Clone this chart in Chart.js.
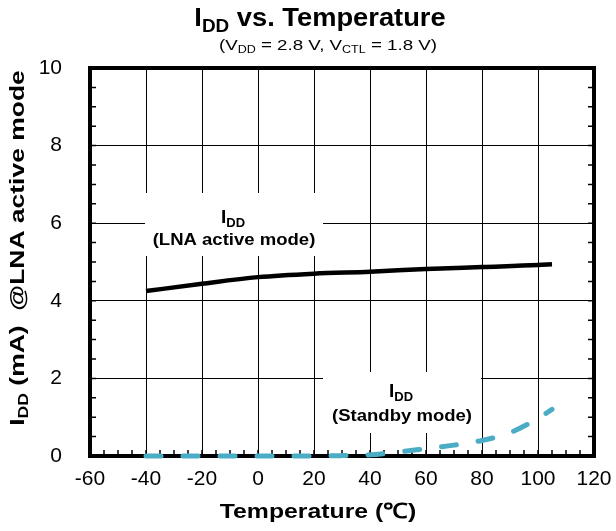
<!DOCTYPE html>
<html>
<head>
<meta charset="utf-8">
<script src="https://cdn.jsdelivr.net/npm/chart.js@4/dist/chart.umd.min.js"></script>
<style>
  html, body { margin: 0; padding: 0; background: #fff; }
  #wrap { width: 616px; height: 531px; }
</style>
</head>
<body>
<div id="wrap"><canvas id="chart" width="616" height="531"></canvas></div>
<script>
const FONT = '"Liberation Sans", Arial, sans-serif';

// data
const activeTemps = [-40, -20, 0, 20, 40, 60, 80, 100, 105];
const activeIdd = [4.25, 4.44, 4.61, 4.70, 4.75, 4.82, 4.87, 4.92, 4.94];
const standbyTemps = [-40, -20, 0, 20, 30, 40, 50, 60, 70, 80, 90, 100, 105];
const standbyIdd = [0, 0, 0, 0, 0.01, 0.03, 0.1, 0.19, 0.28, 0.4, 0.6, 0.97, 1.2];
const xTicks = [-60, -40, -20, 0, 20, 40, 60, 80, 100, 120];
const yTicks = [0, 2, 4, 6, 8, 10];

const toPoints = (xs, ys) => xs.map((x, i) => ({x, y: ys[i]}));

// text with subscripts: parts = [[text, isSub], ...], sx = horizontal stretch
function fontFor(size, sub, bold) {
  return (bold ? 'bold ' : '') + (sub ? Math.round(size * 0.68) : size) + 'px ' + FONT;
}
function drawRich(ctx, parts, cx, cy, size, bold, sx = 1) {
  let w = 0;
  parts.forEach(([t, sub]) => {
    ctx.font = fontFor(size, sub, bold);
    w += ctx.measureText(t).width;
  });
  ctx.save();
  ctx.translate(cx, cy);
  ctx.scale(sx, 1);
  let x = -w / 2;
  ctx.textAlign = 'left';
  ctx.textBaseline = 'middle';
  ctx.fillStyle = '#000';
  parts.forEach(([t, sub]) => {
    ctx.font = fontFor(size, sub, bold);
    ctx.fillText(t, x, sub ? size * 0.3 : 0);
    x += ctx.measureText(t).width;
  });
  ctx.restore();
}

const decorPlugin = {
  id: 'decor',
  beforeDatasetsDraw(chart) {
    const {ctx, chartArea: a, scales: {x, y}} = chart;
    ctx.save();
    // minor ticks pointing inward
    ctx.strokeStyle = '#000';
    ctx.lineWidth = 1.5;
    ctx.beginPath();
    for (let v = -60; v <= 120; v += 5) {
      const px = x.getPixelForValue(v);
      ctx.moveTo(px, a.bottom);
      ctx.lineTo(px, a.bottom - 6);
    }
    for (let v = 0; v <= 10; v += 0.5) {
      const py = y.getPixelForValue(v);
      ctx.moveTo(a.left, py);
      ctx.lineTo(a.left + 6, py);
      ctx.moveTo(a.right, py);
      ctx.lineTo(a.right - 6, py);
    }
    ctx.stroke();

    // annotation boxes
    ctx.fillStyle = '#fff';
    ctx.fillRect(145, 193, 178, 63);
    ctx.fillRect(323, 372, 158, 61);
    drawRich(ctx, [['I', false], ['DD', true]], 233, 218, 19, true);
    drawRich(ctx, [['(LNA active mode)', false]], 234, 240, 17, true, 1.09);
    drawRich(ctx, [['I', false], ['DD', true]], 401, 392, 19, true);
    drawRich(ctx, [['(Standby mode)', false]], 402, 416, 17, true, 1.09);

    // plot frame
    ctx.lineWidth = 4;
    ctx.strokeRect(a.left, a.top, a.right - a.left, a.bottom - a.top);
    ctx.restore();
  },
  afterDraw(chart) {
    const {ctx} = chart;
    ctx.save();
    drawRich(ctx, [['I', false], ['DD', true], [' vs. Temperature', false]], 320, 19, 26, true, 1.05);
    drawRich(ctx, [['(V', false], ['DD', true], [' = 2.8 V, V', false], ['CTL', true], [' = 1.8 V)', false]], 328, 46, 15, false, 1.25);
    drawRich(ctx, [['Temperature (℃)', false]], 318, 512, 21, true, 1.18);
    ctx.translate(18, 248);
    ctx.rotate(-Math.PI / 2);
    drawRich(ctx, [['I', false], ['DD', true], [' (mA)  @LNA active mode', false]], 0, 0, 21, true, 1.26);
    ctx.restore();
  }
};

new Chart(document.getElementById('chart'), {
  type: 'line',
  data: {
    datasets: [
      {
        label: 'LNA active mode',
        data: toPoints(activeTemps, activeIdd),
        borderColor: '#000',
        borderWidth: 4.5,
        cubicInterpolationMode: 'monotone',
        pointRadius: 0,
        fill: false,
        clip: false,
      },
      {
        label: 'Standby mode',
        data: toPoints(standbyTemps, standbyIdd),
        borderColor: '#4BACC6',
        borderWidth: 5,
        borderDash: [15, 22],
        borderCapStyle: 'round',
        cubicInterpolationMode: 'monotone',
        pointRadius: 0,
        fill: false,
        clip: false,
      },
    ],
  },
  options: {
    responsive: false,
    animation: false,
    layout: { padding: { top: 68, right: 22, left: 0, bottom: 0 } },
    plugins: { legend: { display: false }, tooltip: { enabled: false } },
    scales: {
      x: {
        type: 'linear',
        min: -60,
        max: 120,
        afterBuildTicks: s => { s.ticks = xTicks.map(v => ({value: v})); },
        afterFit: s => { s.height = 75; s.paddingLeft = 0; s.paddingRight = 0; },
        ticks: { color: '#000', font: { family: FONT, size: 21 }, padding: 11, maxRotation: 0 },
        grid: { color: '#000', lineWidth: 1, drawTicks: false },
        border: { display: false },
      },
      y: {
        min: 0,
        max: 10,
        afterBuildTicks: s => { s.ticks = yTicks.map(v => ({value: v})); },
        afterFit: s => { s.width = 90; s.paddingTop = 0; s.paddingBottom = 0; },
        ticks: { color: '#000', font: { family: FONT, size: 21 }, padding: 28 },
        grid: { color: '#000', lineWidth: 1, drawTicks: false },
        border: { display: false },
      },
    },
  },
  plugins: [decorPlugin],
});
</script>
</body>
</html>
